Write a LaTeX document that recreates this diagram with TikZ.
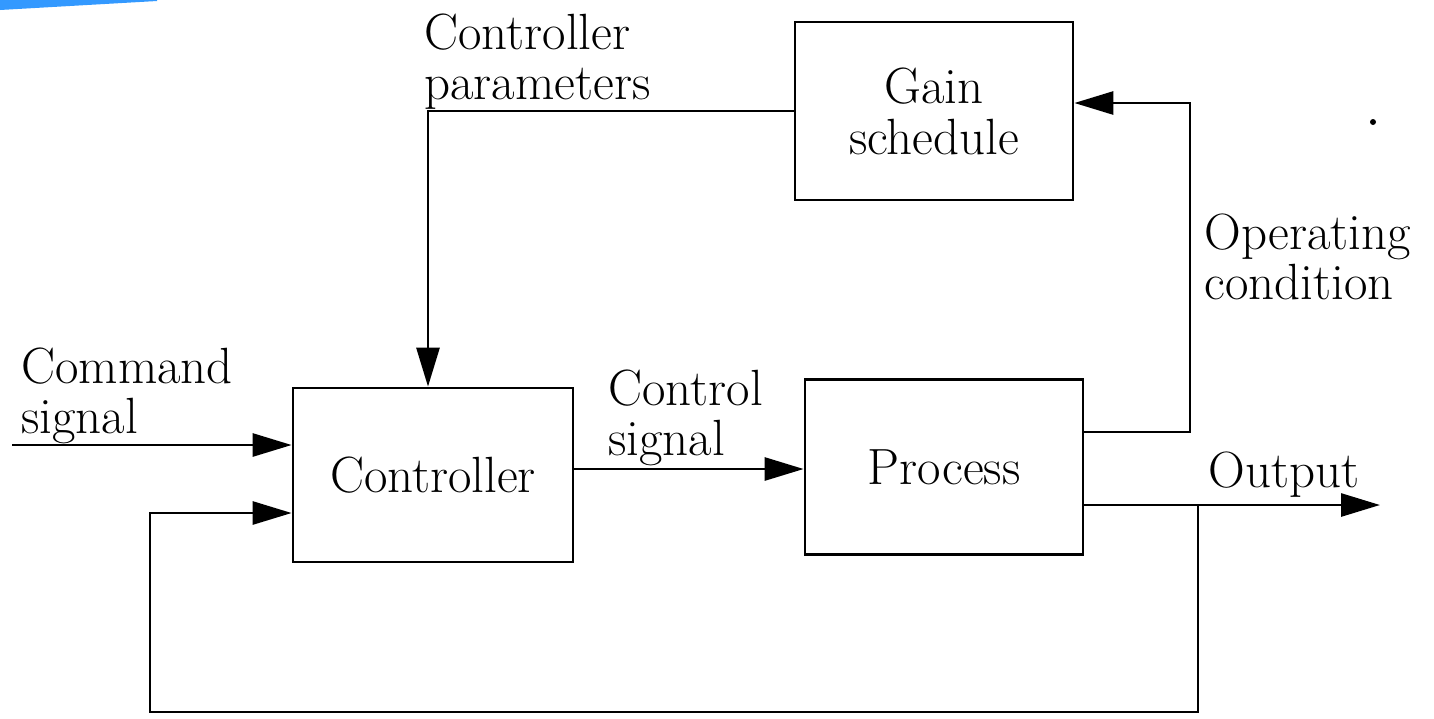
\documentclass[tikz,border=0pt]{standalone}
\usetikzlibrary{arrows.meta,calc}
\begin{document}
\begin{tikzpicture}[x=0.02cm,y=-0.02cm,
  line width=1.6pt,
  every node/.style={font=\fontsize{29}{29}\selectfont},
  block/.style={draw, line width=1.6pt, align=center, inner sep=0pt},
  lbl/.style={align=left, inner sep=0pt, anchor=north west},
  sig/.style={-{Triangle[length=0.78cm,width=0.46cm]}}]
  \useasboundingbox (0,0) rectangle (1434,718);
  % corner mark
  \fill[color={rgb,255:red,51;green,153;blue,255}] (0,0) -- (157,0) -- (157,1) -- (0,10) -- cycle;
  % blocks
  \node[block, minimum width=5.56cm, minimum height=3.56cm] (gain) at (934,111) {Gain\\schedule};
  \node[block, minimum width=5.6cm, minimum height=3.48cm] (ctrl) at (433,475) {Controller};
  \node[block, minimum width=5.56cm, minimum height=3.5cm] (proc) at (944,467) {Process};
  % turn points and free ends
  \coordinate (cmdin) at (12,445);
  \coordinate (csig) at (600,469);
  \coordinate (opx) at (1190,432);
  \coordinate (optop) at (1190,103);
  \coordinate (outend) at (1380,505);
  \coordinate (fbtap) at (1198,505);
  \coordinate (fbbot) at (150,712);
  \coordinate (fbup) at (150,513);
  % connectors
  \draw[sig] (gain.west) -| ($(ctrl.north)+(-5,0)$);
  \draw[sig] (proc.east |- opx) -- (opx) -- (optop) -- (gain.east |- optop);
  \draw[sig] (cmdin) -- (cmdin -| ctrl.west);
  \draw[sig] (ctrl.east |- csig) -- (proc.west |- csig);
  \draw[sig] (proc.east |- outend) -- (outend);
  \draw[sig] (fbtap) |- (fbbot) -- (fbup) -- (fbup -| ctrl.west);
  % labels
  \node[lbl] (lpar) at (423,12) {Controller\\parameters};
  \node[lbl] (lop) at (1203,212) {Operating\\condition};
  \node[lbl] (lcmd) at (20,346) {Command\\signal};
  \node[lbl] (lcs) at (607,368) {Control\\signal};
  \node[lbl] (lout) at (1207,450) {Output};
  % stray mark
  \fill (1373,122) circle (3);
\end{tikzpicture}
\end{document}
